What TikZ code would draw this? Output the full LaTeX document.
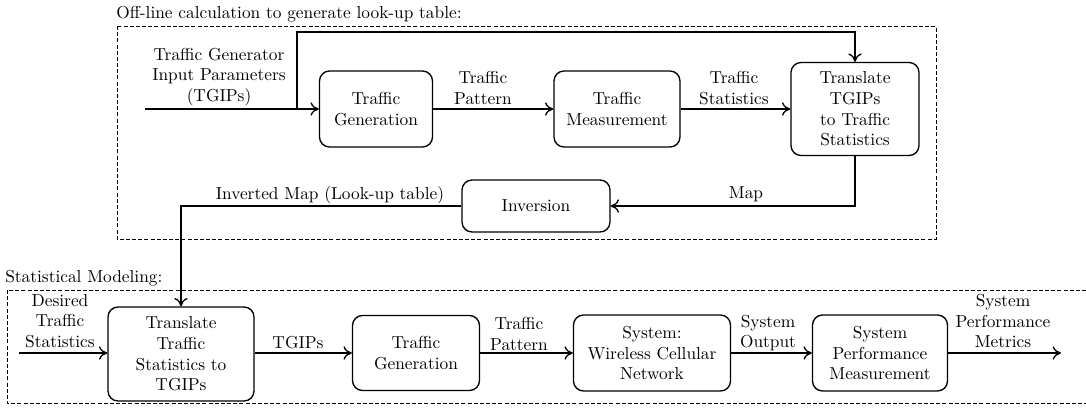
\documentclass[tikz,border=0pt]{standalone}
\usetikzlibrary{arrows.meta}
\begin{document}
\begin{tikzpicture}[x=0.6pt,y=-0.6pt,
  every node/.style={font=\fontsize{10.4}{12.4}\selectfont},
  block/.style={draw,line width=0.8pt,rounded corners=6pt,align=center,inner sep=2pt},
  lbl/.style={align=center,inner sep=0pt},
  flow/.style={line width=0.8pt,-{To[length=5pt,width=8pt]}},
  frame/.style={line width=0.5pt,dash pattern=on 2.4pt off 1.3pt}]
\useasboundingbox (0,0) rectangle (1086,407);

% ---- off-line calculation of the look-up table ----
\draw[frame] (117,26) rectangle (936,239);
\node[lbl,anchor=west] (offtitle) at (116,14) {Off-line calculation to generate look-up table:};

\node[block,minimum width=67.8pt,minimum height=45.6pt] (tg1) at (376,109) {Traffic\\Generation};
\node[block,minimum width=75.6pt,minimum height=45.6pt] (tm1) at (617,109) {Traffic\\Measurement};
\node[block,minimum width=76.8pt,minimum height=55.8pt] (tr1) at (855,109) {Translate\\TGIPs\\to Traffic\\Statistics};
\node[block,minimum width=88.8pt,minimum height=31.2pt] (inv) at (536,206) {Inversion};

\coordinate (in1) at (145,109);
\coordinate (split) at (297,109);
\coordinate (mapbend) at (855,206);
\coordinate (invbend) at (181,206);

\node[lbl] (tgiplbl) at (219,77) {Traffic Generator\\Input Parameters\\(TGIPs)};
\node[lbl] (tp1) at (483,88) {Traffic\\Pattern};
\node[lbl] (ts1) at (734,88) {Traffic\\Statistics};
\node[lbl] (maplbl) at (746,194) {Map};
\node[lbl] (invlbl) at (330,195) {Inverted Map (Look-up table)};

\draw[flow] (in1) -- (tg1.west);
\draw[flow] (split) -- (297,32) -| (tr1.north);
\draw[flow] (tg1.east) -- (tm1.west);
\draw[flow] (tm1.east) -- (tr1.west);
\draw[flow] (tr1.south) -- (mapbend) -- (inv.east);

% ---- statistical modeling ----
\draw[frame] (1086,290) -- (7,290) -- (7,403) -- (1086,403);
\node[lbl,anchor=west] (stattitle) at (5,278) {Statistical Modeling:};

\node[block,minimum width=87.6pt,minimum height=56.4pt] (tr2) at (181,354) {Translate\\Traffic\\Statistics to\\TGIPs};
\node[block,minimum width=76.2pt,minimum height=45pt] (tg2) at (416,353) {Traffic\\Generation};
\node[block,minimum width=94.2pt,minimum height=45.6pt] (sys) at (652,353) {System:\\Wireless Cellular\\Network};
\node[block,minimum width=81pt,minimum height=45.6pt] (spm) at (880,353) {System\\Performance\\Measurement};

\coordinate (in2) at (19,353);
\coordinate (out2) at (1061,353);

\node[lbl] (dts) at (60,321) {Desired\\Traffic\\Statistics};
\node[lbl] (tgipsb) at (298,343) {TGIPs};
\node[lbl] (tp2) at (519,334) {Traffic\\Pattern};
\node[lbl] (so) at (768,333) {System\\Output};
\node[lbl] (spmet) at (1003,321) {System\\Performance\\Metrics};

\draw[flow] (inv.west) -- (invbend) -- (tr2.north);
\draw[flow] (in2) -- (in2 -| tr2.west);
\draw[flow] (tr2.east |- tg2.west) -- (tg2.west);
\draw[flow] (tg2.east) -- (sys.west);
\draw[flow] (sys.east) -- (spm.west);
\draw[flow] (spm.east) -- (out2);
\end{tikzpicture}
\end{document}
